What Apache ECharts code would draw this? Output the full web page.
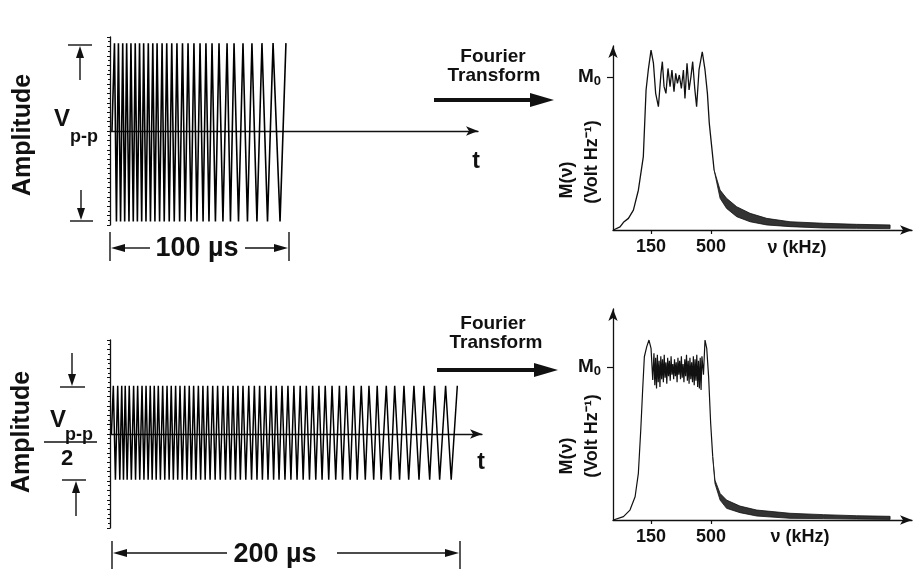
<!DOCTYPE html>
<html>
<head>
<meta charset="utf-8">
<title>Chirp pulses and their spectra</title>
<script src="https://cdn.jsdelivr.net/npm/echarts@6/dist/echarts.min.js"></script>
<style>
  html, body { margin: 0; padding: 0; background: #fff; }
  #chart { width: 918px; height: 569px; }
</style>
</head>
<body>
<div id="chart"></div>
<script>
// ---- time-domain chirps: turning points (µs) ----
const chirp1Start = 1.1;
const chirp1PeakTimes = [2.5, 4.7, 7.1, 9.3, 11.7, 14.1, 16.5, 18.8, 21.4, 23.9, 26.3, 29.1, 31.7, 34.5, 37.4,
  40.5, 43.6, 46.9, 50.3, 53.6, 57.0, 60.9, 65.4, 69.3, 74.3, 79.3, 84.9, 91.1, 98.3];
const chirp1TroughTimes = [3.6, 5.9, 8.2, 10.6, 13.0, 15.3, 17.7, 20.1, 22.6, 25.1, 27.7, 30.3, 33.1, 35.9,
  38.9, 42.0, 45.3, 48.6, 52.0, 55.3, 58.9, 63.1, 67.3, 71.8, 76.8, 82.1, 88.0, 95.0];
const chirp1Levels = [1.0, -1.03];   // peak, trough

const chirp2Start = 0.8;
const chirp2PeakTimes = [1.9, 4.4, 6.7, 8.7, 11.0, 13.5, 15.8, 18.3, 20.6, 23.0, 25.3, 27.6, 30.1, 32.6, 35.0,
  37.5, 40.0, 42.7, 45.3, 47.8, 50.5, 53.1, 55.8, 58.7, 61.5, 64.6, 67.4, 70.3, 73.1, 76.0, 79.3, 82.5, 85.5,
  88.7, 92.0, 95.0, 98.3, 101.7, 105.1, 108.7, 112.2, 115.8, 119.4, 123.0, 126.9, 131.1, 135.0, 139.3, 143.6,
  148.0, 152.7, 157.9, 162.7, 168.0, 173.7, 179.4, 185.5, 191.8, 198.5];
const chirp2TroughTimes = [3.1, 5.6, 7.7, 9.8, 12.2, 14.6, 17.0, 19.4, 21.8, 24.1, 26.4, 28.8, 31.3, 33.8, 36.2,
  38.7, 41.3, 44.0, 46.5, 49.1, 51.8, 54.4, 57.2, 60.1, 63.0, 66.0, 68.8, 71.7, 74.5, 77.6, 80.9, 84.0, 87.1,
  90.3, 93.5, 96.6, 100.0, 103.4, 106.9, 110.4, 114.0, 117.6, 121.2, 125.0, 129.0, 132.9, 137.3, 141.3, 145.9,
  150.7, 155.0, 160.4, 165.5, 170.7, 176.6, 182.7, 188.4, 195.0];
const chirp2Levels = [0.55, -0.52];

// ---- spectra: frequency (kHz) and magnitude (units of M0) ----
const spec1Freq = [-70, -31, -11, 18, 47, 76, 105, 121, 134, 150, 164, 177, 193, 208, 216, 226, 237, 249, 261,
  272, 284, 294, 304, 315, 327, 339, 348, 360, 372, 383, 393, 405, 416, 430, 449, 465, 479, 490, 504, 518];
const spec1Mag = [0, 0.02, 0.05, 0.076, 0.13, 0.26, 0.48, 0.915, 1.046, 1.176, 1.09, 0.893, 0.806, 1.024, 1.10,
  0.937, 0.893, 1.056, 0.937, 1.046, 0.904, 1.024, 0.958, 1.013, 0.926, 1.046, 0.86, 1.09, 0.915, 1.002, 1.10,
  0.926, 0.806, 1.046, 1.165, 1.046, 0.893, 0.697, 0.545, 0.392];
const spec1TailFreq = [518, 553, 591, 650, 728, 825, 961, 1156, 1350, 1545];
const spec1TailHi = [0.392, 0.261, 0.207, 0.152, 0.109, 0.076, 0.054, 0.044, 0.037, 0.033];
const spec1TailLo = [0.392, 0.207, 0.141, 0.087, 0.054, 0.033, 0.022, 0.013, 0.011, 0.009];

const spec2Freq = [-70, -11, 27, 57, 76, 90, 101, 111, 125, 138, 150, 160,
  167, 172, 177, 182, 187, 192, 197, 202, 207, 212, 217, 222, 227, 232, 237, 242, 247, 252, 257, 262, 267, 272,
  277, 282, 287, 292, 297, 302, 307, 312, 317, 322, 327, 332, 337, 342, 347, 352, 357, 362, 367, 372, 377, 382,
  387, 392, 397, 402, 407, 412, 417, 422, 427, 432, 437, 442, 447,
  456, 465, 475, 486, 498, 510];
const spec2Mag = [0, 0.022, 0.065, 0.152, 0.305, 0.588, 0.85, 1.067, 1.133, 1.176, 1.122, 0.915,
  1.09, 0.88, 1.06, 0.86, 1.08, 0.90, 1.04, 0.87, 1.07, 0.92, 1.05, 0.90, 1.08, 0.93, 1.03, 0.89, 1.06, 0.94,
  1.04, 0.91, 1.07, 0.95, 1.02, 0.92, 1.05, 0.94, 1.03, 0.90, 1.06, 0.95, 1.04, 0.92, 1.07, 0.93, 1.02, 0.90,
  1.05, 0.94, 1.08, 0.91, 1.04, 0.89, 1.06, 0.92, 1.03, 0.90, 1.07, 0.88, 1.05, 0.91, 1.08, 0.87, 1.04, 0.86,
  1.06, 0.85, 1.07,
  0.95, 1.176, 1.122, 0.937, 0.632, 0.414];
const spec2TailFreq = [510, 523, 553, 591, 669, 767, 961, 1156, 1350, 1545];
const spec2TailHi = [0.414, 0.261, 0.174, 0.13, 0.091, 0.065, 0.044, 0.035, 0.028, 0.024];
const spec2TailLo = [0.414, 0.239, 0.13, 0.076, 0.048, 0.026, 0.011, 0.009, 0.006, 0.004];

const freqTicks = [150, 500];
const m0Level = [1];

const FONT = '"Liberation Sans", Arial, Helvetica, sans-serif';
const INK = '#111';

function chirpData(start, peaks, troughs, levels) {
  const pts = [[start, 0]];
  peaks.forEach(t => pts.push([t, levels[0]]));
  troughs.forEach(t => pts.push([t, levels[1]]));
  return pts.sort((a, b) => a[0] - b[0]);
}

function zip(xs, ys) {
  return xs.map((x, i) => [x, ys[i]]);
}

function tailBand(idx, freq, hi, lo) {
  return {
    type: 'custom',
    xAxisIndex: idx,
    yAxisIndex: idx,
    data: freq.map((f, i) => [f, hi[i], lo[i]]),
    renderItem(params, api) {
      if (params.dataIndex !== 0) return;
      const pts = [];
      for (let i = 0; i < freq.length; i++) pts.push(api.coord([freq[i], hi[i]]));
      for (let i = freq.length - 1; i >= 0; i--) pts.push(api.coord([freq[i], lo[i]]));
      return {
        type: 'polygon',
        shape: { points: pts },
        style: { fill: '#333', stroke: INK, lineWidth: 0.8 }
      };
    }
  };
}

// annotation helpers
function txt(x, y, s, size, rot) {
  return {
    type: 'text', x: x, y: y, rotation: rot || 0,
    style: {
      text: s, fill: INK, fontSize: size, fontWeight: 'bold', fontFamily: FONT,
      textAlign: 'center', textVerticalAlign: 'middle', align: 'center', verticalAlign: 'middle'
    }
  };
}
function seg(x1, y1, x2, y2, w) {
  return { type: 'line', shape: { x1: x1, y1: y1, x2: x2, y2: y2 }, style: { stroke: INK, lineWidth: w || 1.4 } };
}
function head(x, y, dir, len, half) {
  let pts;
  if (dir === 'up') pts = [[x, y], [x - half, y + len], [x + half, y + len]];
  else if (dir === 'down') pts = [[x, y], [x - half, y - len], [x + half, y - len]];
  else if (dir === 'left') pts = [[x, y], [x + len, y - half], [x + len, y + half]];
  else pts = [[x, y], [x - len, y - half], [x - len, y + half]];
  return { type: 'polygon', shape: { points: pts }, style: { fill: INK } };
}

const chirpY = (top) => ({
  gridIndex: top,
  type: 'value', min: -1.07, max: 1.07, interval: 0.107,
  axisLine: { show: true, lineStyle: { color: INK, width: 1.3 } },
  axisTick: { show: true, length: 3, lineStyle: { color: INK } },
  minorTick: { show: true, splitNumber: 2, length: 2, lineStyle: { color: INK } },
  axisLabel: { show: false },
  splitLine: { show: false }
});

const chirpX = (idx, max) => ({
  gridIndex: idx,
  type: 'value', min: 0, max: max,
  axisLine: { show: true, symbol: ['none', 'arrow'], symbolSize: [7, 12], lineStyle: { color: INK, width: 1.3 } },
  axisTick: { show: false },
  axisLabel: { show: false },
  splitLine: { show: false }
});

const specX = (idx) => ({
  gridIndex: idx,
  type: 'value', min: -72, max: 1673,
  axisLine: { show: true, onZero: false, symbol: ['none', 'arrow'], symbolSize: [7, 12], lineStyle: { color: INK, width: 1.3 } },
  axisTick: { show: true, customValues: freqTicks, length: 4, lineStyle: { color: INK, width: 1.2 } },
  axisLabel: {
    show: true, customValues: freqTicks, margin: 8,
    color: INK, fontSize: 18, fontWeight: 'bold', fontFamily: FONT
  },
  splitLine: { show: false }
});

const specY = (idx, max) => ({
  gridIndex: idx,
  type: 'value', min: 0, max: max,
  axisLine: { show: true, onZero: false, symbol: ['none', 'arrow'], symbolSize: [7, 12], lineStyle: { color: INK, width: 1.3 } },
  axisTick: { show: true, customValues: m0Level, length: 6, lineStyle: { color: INK, width: 1.2 } },
  axisLabel: {
    show: true, customValues: m0Level, margin: 12,
    formatter: () => '{m|M}{s|0}',
    rich: {
      m: { fontSize: 19, fontWeight: 'bold', fontFamily: FONT, color: INK },
      s: { fontSize: 13, fontWeight: 'bold', fontFamily: FONT, color: INK, padding: [8, 0, 0, 0] }
    }
  },
  splitLine: { show: false }
});

const chart = echarts.init(document.getElementById('chart'), null, { renderer: 'canvas' });

const option = {
  backgroundColor: '#fff',
  animation: false,
  grid: [
    { left: 110, top: 37, width: 368, height: 188 },
    { left: 110, top: 340, width: 372, height: 188 },
    { left: 613, top: 46, width: 299, height: 184 },
    { left: 613, top: 309, width: 299, height: 211 }
  ],
  xAxis: [chirpX(0, 205.6), chirpX(1, 212.6), specX(2), specX(3)],
  yAxis: [chirpY(0), chirpY(1), specY(2, 1.2026), specY(3, 1.379)],
  series: [
    {
      type: 'line', xAxisIndex: 0, yAxisIndex: 0, showSymbol: false,
      data: chirpData(chirp1Start, chirp1PeakTimes, chirp1TroughTimes, chirp1Levels),
      lineStyle: { color: '#000', width: 1.6 }
    },
    {
      type: 'line', xAxisIndex: 1, yAxisIndex: 1, showSymbol: false,
      data: chirpData(chirp2Start, chirp2PeakTimes, chirp2TroughTimes, chirp2Levels),
      lineStyle: { color: '#000', width: 1.5 }
    },
    {
      type: 'line', xAxisIndex: 2, yAxisIndex: 2, showSymbol: false,
      data: zip(spec1Freq, spec1Mag),
      lineStyle: { color: INK, width: 1.3 }
    },
    tailBand(2, spec1TailFreq, spec1TailHi, spec1TailLo),
    {
      type: 'line', xAxisIndex: 3, yAxisIndex: 3, showSymbol: false,
      data: zip(spec2Freq, spec2Mag),
      lineStyle: { color: INK, width: 1.2 }
    },
    tailBand(3, spec2TailFreq, spec2TailHi, spec2TailLo)
  ],
  graphic: [
    // top pulse annotations
    txt(23, 135, 'Amplitude', 25, Math.PI / 2),
    seg(68, 45, 92, 45), seg(80, 80, 80, 52), head(80, 46, 'up', 12, 4),
    seg(70, 221, 93, 221), seg(81, 190, 81, 214), head(81, 220, 'down', 12, 4),
    txt(62, 119, 'V', 24), txt(84, 137, 'p-p', 18),
    seg(110, 232, 110, 261), seg(289, 232, 289, 261),
    seg(118, 248, 150, 248), head(111, 248, 'left', 14, 4),
    seg(245, 248, 282, 248), head(288, 248, 'right', 14, 4),
    txt(197, 249, '100 µs', 27),
    txt(476, 162, 't', 23),
    txt(493, 57, 'Fourier', 19), txt(494, 76, 'Transform', 19),
    seg(434, 100, 532, 100, 4), head(554, 100, 'right', 24, 7),
    txt(567, 180, 'M(ν)', 18, Math.PI / 2), txt(592, 162, '(Volt Hz⁻¹)', 18, Math.PI / 2),
    txt(797, 248, 'ν (kHz)', 18),

    // bottom pulse annotations
    txt(22, 432, 'Amplitude', 25, Math.PI / 2),
    seg(72, 353, 72, 380), head(72, 386, 'down', 12, 4), seg(60, 387, 85, 387),
    txt(58, 420, 'V', 24), txt(79, 435, 'p-p', 18),
    seg(44, 442, 97, 442, 1.6), txt(67, 459, '2', 22),
    seg(62, 480, 86, 480), seg(76, 516, 76, 487), head(76, 481, 'up', 12, 4),
    seg(112, 541, 112, 569), seg(460, 541, 460, 569),
    seg(120, 553, 227, 553), head(113, 553, 'left', 14, 4),
    seg(337, 553, 453, 553), head(459, 553, 'right', 14, 4),
    txt(275, 555, '200 µs', 27),
    txt(481, 463, 't', 23),
    txt(493, 324, 'Fourier', 19), txt(496, 343, 'Transform', 19),
    seg(437, 370, 536, 370, 4), head(558, 370, 'right', 24, 7),
    txt(567, 456, 'M(ν)', 18, Math.PI / 2), txt(592, 436, '(Volt Hz⁻¹)', 18, Math.PI / 2),
    txt(800, 537, 'ν (kHz)', 18)
  ]
};

chart.setOption(option);

window.addEventListener('resize', function () {
  chart.resize();
});
</script>
</body>
</html>
